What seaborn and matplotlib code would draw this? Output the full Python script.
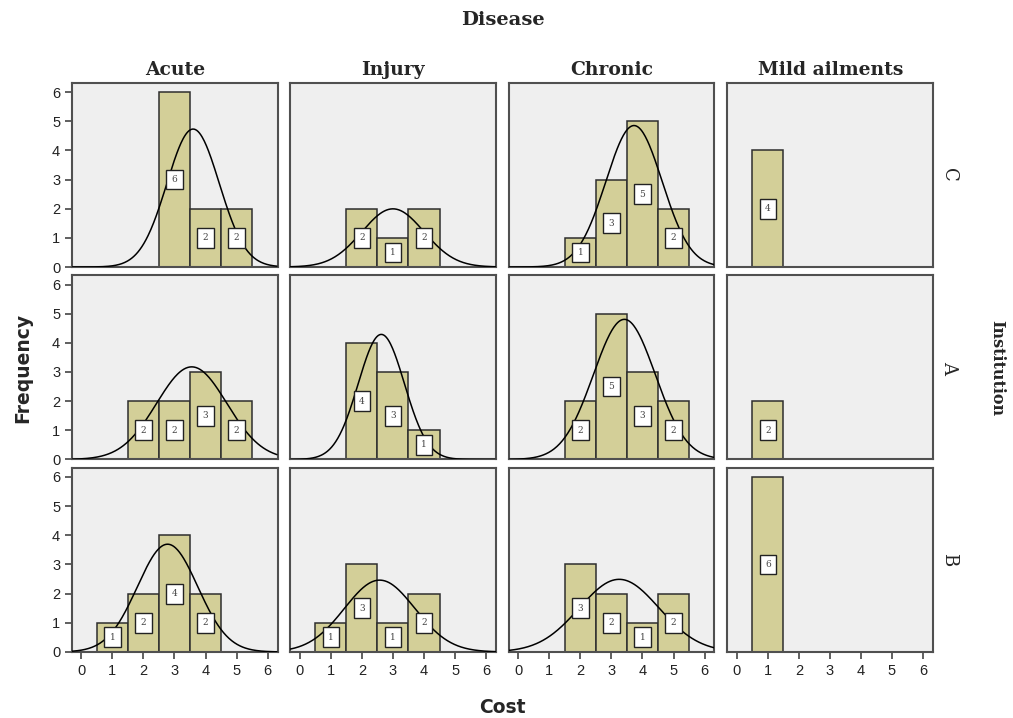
import numpy as np
import pandas as pd
import matplotlib
matplotlib.use("Agg")
import matplotlib.pyplot as plt
import seaborn as sns

# ---- data ----
diseases = ["Acute", "Injury", "Chronic", "Mild ailments"]
institutions = ["C", "A", "B"]
cost_values = [1, 2, 3, 4, 5]

# counts per cost value 1..5, for each institution (row) and disease (column)
C_acute = [0, 0, 6, 2, 2]
C_injury = [0, 2, 1, 2, 0]
C_chronic = [0, 1, 3, 5, 2]
C_mild = [4, 0, 0, 0, 0]

A_acute = [0, 2, 2, 3, 2]
A_injury = [0, 4, 3, 1, 0]
A_chronic = [0, 2, 5, 3, 2]
A_mild = [2, 0, 0, 0, 0]

B_acute = [1, 2, 4, 2, 0]
B_injury = [1, 3, 1, 2, 0]
B_chronic = [0, 3, 2, 1, 2]
B_mild = [6, 0, 0, 0, 0]

x_ticks = [0, 1, 2, 3, 4, 5, 6]
y_ticks = [0, 1, 2, 3, 4, 5, 6]

counts = {
    "C": [C_acute, C_injury, C_chronic, C_mild],
    "A": [A_acute, A_injury, A_chronic, A_mild],
    "B": [B_acute, B_injury, B_chronic, B_mild],
}

sns.set_style("white")
plt.rcParams["font.family"] = ["DejaVu Sans"]

bar_color = "#D3CF98"
edge_color = "#2e2e2e"
panel_bg = "#EFEFEF"
serif = "DejaVu Serif"

fig, axes = plt.subplots(3, 4, figsize=(10.13, 7.18), dpi=100, sharex=True, sharey=True)
fig.subplots_adjust(left=0.0711, right=0.921, top=0.8844, bottom=0.092,
                    wspace=0.063, hspace=0.046)

xs = np.linspace(-0.3, 6.3, 300)
for r, inst in enumerate(institutions):
    for c, dis in enumerate(diseases):
        ax = axes[r, c]
        ax.set_facecolor(panel_bg)
        cnt = counts[inst][c]
        df = pd.DataFrame({"cost": cost_values, "n": cnt})
        df = df[df["n"] > 0]
        sns.histplot(data=df, x="cost", weights="n", discrete=True, ax=ax,
                     color=bar_color, edgecolor=edge_color, linewidth=1.1,
                     alpha=1, zorder=2)
        # labels
        for v, n in zip(df["cost"], df["n"]):
            ax.text(v, n / 2, str(n), ha="center", va="center", fontsize=6.5,
                    family=serif, color="#444444", zorder=5,
                    bbox=dict(boxstyle="square,pad=0.6", fc="white", ec="#222222", lw=1.0))
        # normal curve
        vals = np.repeat(df["cost"].values, df["n"].values)
        N = len(vals)
        sd = vals.std(ddof=1) if N > 1 else 0
        if sd > 0:
            mu = vals.mean()
            ys = N * np.exp(-0.5 * ((xs - mu) / sd) ** 2) / (sd * np.sqrt(2 * np.pi))
            sns.lineplot(x=xs, y=ys, ax=ax, color="black", linewidth=1.1, zorder=4)
        ax.set_xlim(-0.3, 6.32)
        ax.set_ylim(0, 6.31)
        ax.set_xticks(x_ticks)
        ax.set_yticks(y_ticks)
        ax.set_xlabel("")
        ax.set_ylabel("")
        for sp in ax.spines.values():
            sp.set_color("#505050")
            sp.set_linewidth(1.5)
        ax.tick_params(axis="both", which="both", length=0, labelsize=10.5, colors="#222222")
        for lab in ax.get_xticklabels() + ax.get_yticklabels():
            lab.set_family("Liberation Sans")
        if c == 0:
            ax.tick_params(axis="y", left=True, length=5, width=1.2, color="#444444")
        if r == 2:
            ax.tick_params(axis="x", bottom=True, length=5, width=1.2, color="#444444")
        if r == 0:
            ax.set_title(dis, fontsize=13.5, fontweight="bold", family=serif, pad=6)
        if c == 3:
            ax.text(1.08, 0.5, inst, transform=ax.transAxes, rotation=-90,
                    ha="center", va="center", fontsize=13, family=serif)

fig.text(0.496, 0.972, "Disease", ha="center", va="center", fontsize=14,
         fontweight="bold", family=serif)
fig.text(0.984, 0.488, "Institution", ha="center", va="center", fontsize=11.5,
         fontweight="bold", family=serif, rotation=-90)
fig.text(0.022, 0.488, "Frequency", ha="center", va="center", fontsize=13.5,
         fontweight="bold", rotation=90)
fig.text(0.496, 0.014, "Cost", ha="center", va="center", fontsize=13.5,
         fontweight="bold")

fig.savefig("out.png", dpi=100)
